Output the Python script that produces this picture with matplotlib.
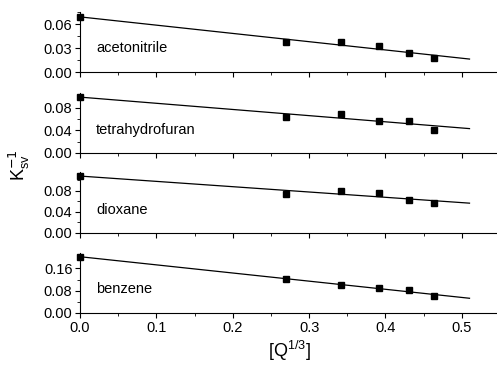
import matplotlib.pyplot as plt
import numpy as np
from matplotlib.ticker import MultipleLocator, AutoMinorLocator

plt.rcParams['font.family'] = ['Liberation Sans', 'DejaVu Sans']

# quencher concentration axis
q = [0.0, 0.27, 0.342, 0.391, 0.431, 0.464]

solvents = ['acetonitrile', 'tetrahydrofuran', 'dioxane', 'benzene']
k_acn = [0.069, 0.038, 0.037, 0.0325, 0.024, 0.0175]
k_thf = [0.0996, 0.0645, 0.069, 0.057, 0.057, 0.041]
k_dio = [0.108, 0.074, 0.080, 0.0755, 0.063, 0.056]
k_benz = [0.200, 0.121, 0.102, 0.0887, 0.0815, 0.060]

# linear fits: value at x=0 and at x=0.51
fit_x = [0.0, 0.51]
fit_acn = [0.069, 0.0163]
fit_thf = [0.099, 0.0432]
fit_dio = [0.108, 0.0564]
fit_benz = [0.202, 0.0527]

ylims = [0.075, 0.107, 0.115, 0.217]
yticks = [0.03, 0.04, 0.04, 0.08]
label_y = [0.03, 0.04, 0.043, 0.085]

series = [k_acn, k_thf, k_dio, k_benz]
fits = [fit_acn, fit_thf, fit_dio, fit_benz]

fig = plt.figure(figsize=(4.97, 3.66), dpi=100)
# panel placement (bottom, height) in figure fraction
boxes = [(0.803, 0.164), (0.582, 0.165), (0.364, 0.165), (0.145, 0.165)]

for i, (bot, h) in enumerate(boxes):
    ax = fig.add_axes([0.161, bot, 0.839, h])
    ax.plot(fit_x, fits[i], '-', color='black', lw=0.9)
    ax.plot(q, series[i], 's', color='black', ms=4.5, clip_on=False)
    ax.set_xlim(0, 0.546)
    ax.set_ylim(0, ylims[i])
    ax.spines['top'].set_visible(False)
    ax.spines['right'].set_visible(False)
    ax.xaxis.set_major_locator(MultipleLocator(0.1))
    ax.xaxis.set_minor_locator(MultipleLocator(0.05))
    ax.yaxis.set_major_locator(MultipleLocator(yticks[i]))
    ax.yaxis.set_minor_locator(AutoMinorLocator(2))
    ax.tick_params(which='major', direction='out', length=3.5, labelsize=10.5, pad=2)
    ax.tick_params(which='minor', direction='out', length=2)
    ax.yaxis.set_major_formatter(plt.FormatStrFormatter('%.2f'))
    if i < 3:
        ax.tick_params(axis='x', labelbottom=False)
    else:
        ax.xaxis.set_major_formatter(plt.FormatStrFormatter('%.1f'))
    ax.text(0.021, label_y[i], solvents[i], fontsize=10.5, va='center')

fig.text(0.04, 0.55, r'K$^{-1}_{\mathregular{sv}}$', rotation=90, fontsize=13, va='center', ha='center')
fig.text(0.583, 0.008, r'[Q$^{\mathregular{1/3}}$]', fontsize=13, ha='center', va='bottom')

fig.savefig('out.png', dpi=100)
